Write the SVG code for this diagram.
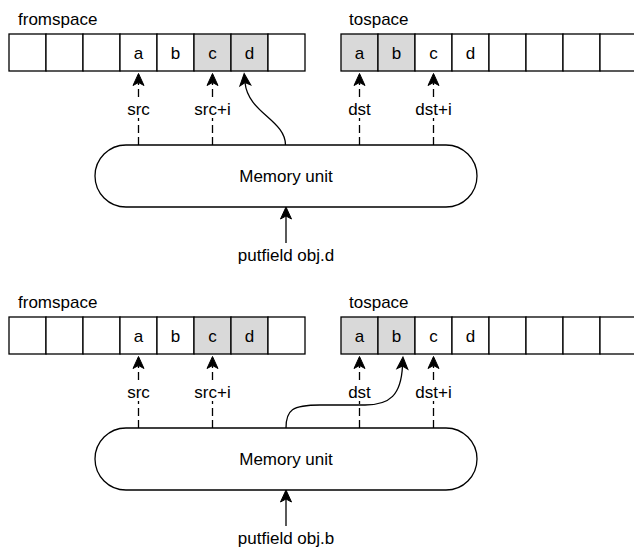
<svg xmlns="http://www.w3.org/2000/svg" width="634" height="548" viewBox="0 0 634 548">
<defs>
<style>
.t{font-family:"Liberation Sans",Arial,sans-serif;font-size:17px;fill:#000}
.c{text-anchor:middle}
.cell{fill:#fff;stroke:#000;stroke-width:1.3}
.g{fill:#d9d9d9}
.mu{fill:#fff;stroke:#000;stroke-width:1.3}
.ln{fill:none;stroke:#000;stroke-width:1.3}
.d{stroke-dasharray:8 4}
.lb{fill:#fff;stroke:none}
</style>
<marker id="ah" markerUnits="userSpaceOnUse" viewBox="-4 -7 14 14" refX="0" refY="0" markerWidth="14" markerHeight="14" orient="auto" overflow="visible">
<path d="M9,0 L-3,-5.5 L0,0 L-3,5.5 Z" fill="#000" stroke="#000" stroke-width="1"/>
</marker>
</defs>
<rect width="634" height="548" fill="#fff"/>

<!-- Diagram 1 -->
<g id="diagram1">
<g id="d1-fromspace-label"><text class="t" x="18" y="24.5">fromspace</text></g>
<g id="d1-from-0"><rect class="cell" x="9" y="34" width="37" height="37"/></g>
<g id="d1-from-1"><rect class="cell" x="46" y="34" width="37" height="37"/></g>
<g id="d1-from-2"><rect class="cell" x="83" y="34" width="37" height="37"/></g>
<g id="d1-from-3"><rect class="cell" x="120" y="34" width="37" height="37"/><text class="t c" x="138.5" y="58.5">a</text></g>
<g id="d1-from-4"><rect class="cell" x="157" y="34" width="37" height="37"/><text class="t c" x="175.5" y="58.5">b</text></g>
<g id="d1-from-5"><rect class="cell g" x="194" y="34" width="37" height="37"/><text class="t c" x="212.5" y="58.5">c</text></g>
<g id="d1-from-6"><rect class="cell g" x="231" y="34" width="37" height="37"/><text class="t c" x="249.5" y="58.5">d</text></g>
<g id="d1-from-7"><rect class="cell" x="268" y="34" width="37" height="37"/></g>

<g id="d1-tospace-label"><text class="t" x="349" y="24.5">tospace</text></g>
<g id="d1-to-0"><rect class="cell g" x="341" y="34" width="37" height="37"/><text class="t c" x="359.5" y="58.5">a</text></g>
<g id="d1-to-1"><rect class="cell g" x="378" y="34" width="37" height="37"/><text class="t c" x="396.5" y="58.5">b</text></g>
<g id="d1-to-2"><rect class="cell" x="415" y="34" width="37" height="37"/><text class="t c" x="433.5" y="58.5">c</text></g>
<g id="d1-to-3"><rect class="cell" x="452" y="34" width="37" height="37"/><text class="t c" x="470.5" y="58.5">d</text></g>
<g id="d1-to-4"><rect class="cell" x="489" y="34" width="37" height="37"/></g>
<g id="d1-to-5"><rect class="cell" x="526" y="34" width="37" height="37"/></g>
<g id="d1-to-6"><rect class="cell" x="563" y="34" width="37" height="37"/></g>
<g id="d1-to-7"><rect class="cell" x="600" y="34" width="37" height="37"/></g>

<g id="d1-memory"><rect class="mu" x="95" y="145" width="382" height="62" rx="31" ry="31"/><text class="t c" x="286" y="182">Memory unit</text></g>
<g id="d1-putfield"><text class="t c" x="286" y="260.5">putfield obj.d</text></g>

<g id="d1-connectors">
<path class="ln d" d="M138.5 145 V82.5" marker-end="url(#ah)"/>
<path class="ln d" d="M212.5 145 V82.5" marker-end="url(#ah)"/>
<path class="ln d" d="M359.5 145 V82.5" marker-end="url(#ah)"/>
<path class="ln d" d="M433.5 145 V82.5" marker-end="url(#ah)"/>
<path class="ln" d="M285.5 145 C285.5 120 248 113 245 82.5" marker-end="url(#ah)"/>
<path class="ln" d="M286 243 V216" marker-end="url(#ah)"/>
<rect class="lb" x="125.5" y="100" width="26" height="18"/><text class="t c" x="138.5" y="114.5">src</text>
<rect class="lb" x="193.5" y="100" width="38" height="18"/><text class="t c" x="212.5" y="114.5">src+i</text>
<rect class="lb" x="346.5" y="100" width="26" height="18"/><text class="t c" x="359.5" y="114.5">dst</text>
<rect class="lb" x="414.5" y="100" width="38" height="18"/><text class="t c" x="433.5" y="114.5">dst+i</text>
</g>
</g>

<!-- Diagram 2 -->
<g id="diagram2" transform="translate(0,283)">
<g id="d2-fromspace-label"><text class="t" x="18" y="24.5">fromspace</text></g>
<g id="d2-from-0"><rect class="cell" x="9" y="34" width="37" height="37"/></g>
<g id="d2-from-1"><rect class="cell" x="46" y="34" width="37" height="37"/></g>
<g id="d2-from-2"><rect class="cell" x="83" y="34" width="37" height="37"/></g>
<g id="d2-from-3"><rect class="cell" x="120" y="34" width="37" height="37"/><text class="t c" x="138.5" y="58.5">a</text></g>
<g id="d2-from-4"><rect class="cell" x="157" y="34" width="37" height="37"/><text class="t c" x="175.5" y="58.5">b</text></g>
<g id="d2-from-5"><rect class="cell g" x="194" y="34" width="37" height="37"/><text class="t c" x="212.5" y="58.5">c</text></g>
<g id="d2-from-6"><rect class="cell g" x="231" y="34" width="37" height="37"/><text class="t c" x="249.5" y="58.5">d</text></g>
<g id="d2-from-7"><rect class="cell" x="268" y="34" width="37" height="37"/></g>

<g id="d2-tospace-label"><text class="t" x="349" y="24.5">tospace</text></g>
<g id="d2-to-0"><rect class="cell g" x="341" y="34" width="37" height="37"/><text class="t c" x="359.5" y="58.5">a</text></g>
<g id="d2-to-1"><rect class="cell g" x="378" y="34" width="37" height="37"/><text class="t c" x="396.5" y="58.5">b</text></g>
<g id="d2-to-2"><rect class="cell" x="415" y="34" width="37" height="37"/><text class="t c" x="433.5" y="58.5">c</text></g>
<g id="d2-to-3"><rect class="cell" x="452" y="34" width="37" height="37"/><text class="t c" x="470.5" y="58.5">d</text></g>
<g id="d2-to-4"><rect class="cell" x="489" y="34" width="37" height="37"/></g>
<g id="d2-to-5"><rect class="cell" x="526" y="34" width="37" height="37"/></g>
<g id="d2-to-6"><rect class="cell" x="563" y="34" width="37" height="37"/></g>
<g id="d2-to-7"><rect class="cell" x="600" y="34" width="37" height="37"/></g>

<g id="d2-memory"><rect class="mu" x="95" y="145" width="382" height="62" rx="31" ry="31"/><text class="t c" x="286" y="182">Memory unit</text></g>
<g id="d2-putfield"><text class="t c" x="286" y="260.5">putfield obj.b</text></g>

<g id="d2-connectors">
<path class="ln d" d="M138.5 145 V82.5" marker-end="url(#ah)"/>
<path class="ln d" d="M212.5 145 V82.5" marker-end="url(#ah)"/>
<path class="ln d" d="M359.5 145 V82.5" marker-end="url(#ah)"/>
<path class="ln d" d="M433.5 145 V82.5" marker-end="url(#ah)"/>
<path class="ln" d="M286 145 C286 127 292 122 320 122 L365 122 C390 122 401 112 402.5 83" marker-end="url(#ah)"/>
<path class="ln" d="M286 243 V216" marker-end="url(#ah)"/>
<rect class="lb" x="125.5" y="100" width="26" height="18"/><text class="t c" x="138.5" y="114.5">src</text>
<rect class="lb" x="193.5" y="100" width="38" height="18"/><text class="t c" x="212.5" y="114.5">src+i</text>
<rect class="lb" x="346.5" y="100" width="26" height="18"/><text class="t c" x="359.5" y="114.5">dst</text>
<rect class="lb" x="414.5" y="100" width="38" height="18"/><text class="t c" x="433.5" y="114.5">dst+i</text>
</g>
</g>
</svg>
